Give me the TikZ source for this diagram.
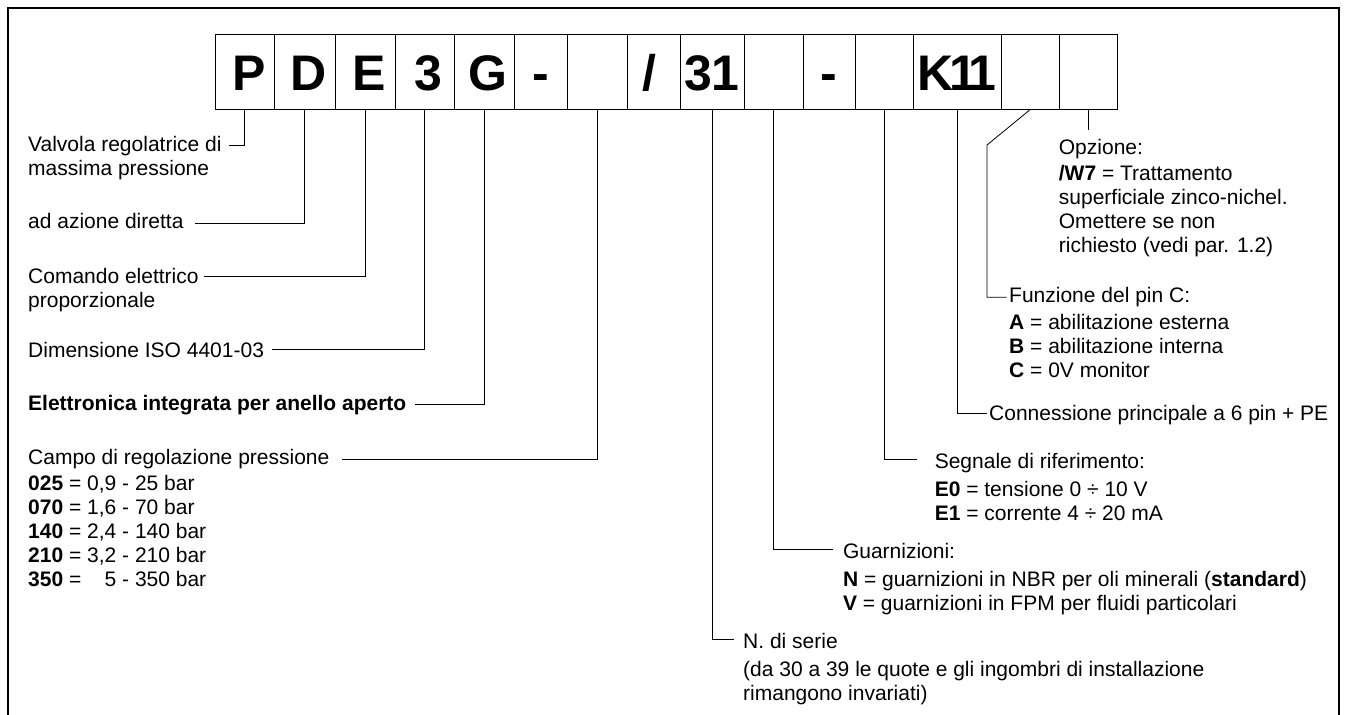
\documentclass[tikz,border=0pt]{standalone}
\usepackage{fontspec}
\setmainfont{Liberation Sans}
\usetikzlibrary{positioning,calc}

\newcommand{\labelrows}[1]{\begin{tabular}[t]{@{}l@{}}#1\end{tabular}}

\tikzset{
  cell/.style={draw, line width=0.8pt, inner sep=0pt, minimum height=75pt,
    text height=38pt, text depth=0pt, font=\bfseries\fontsize{50}{54}\selectfont},
  lbl/.style={anchor=base west, inner sep=0pt, font=\fontsize{21}{24}\selectfont},
  lead/.style={line width=0.8pt}
}

\begin{document}
\begin{tikzpicture}[x=1pt, y=-1pt]
    \useasboundingbox (0,0) rectangle (1345,715);
    % frame, open at the bottom
    \draw[line width=1.3pt] (8,715) -- (8,8) -- (1339,8) -- (1339,715);

    % code cells
    \foreach \nm/\xa/\xb/\txt in {bP/215/274.5/\kern8pt P, bD/274.5/335/\kern8pt D,
        bE/335/395/\kern8pt E, bSize/395/454.5/\kern8pt 3, bG/454.5/514/\kern8pt G,
        bDashA/514/567/-, bRange/567/627/{}, bSlash/627/680/{/\kern8pt},
        bSeries/680/744/31, bSeal/744/803/{}, bDashB/803/855/-, bSignal/855/913/{},
        bConn/913/1001/K\kern-4pt 1\kern-9pt 1, bPin/1001/1059/{}, bOption/1059/1117/{}}
      \node[cell, minimum width={(\xb-\xa)*1pt}] (\nm) at ({(\xa+\xb)/2},71.8) {\txt};

    % left labels
    \node[lbl] (valv) at (28,151.7) {\labelrows{Valvola regolatrice di\\ massima pressione}};
    \node[lbl] (azione) at (28,228.5) {ad azione diretta};
    \node[lbl] (comando) at (28,283) {\labelrows{Comando elettrico\\ proporzionale}};
    \node[lbl] (dimens) at (28,357) {Dimensione ISO 4401-03};
    \node[lbl] (elettr) at (28,410) {\textbf{Elettronica integrata per anello aperto}};
    \node[lbl] (campo) at (28,464) {Campo di regolazione pressione};
    \node[lbl] (campolist) at ([yshift=-26.7pt]campo.base west) {\labelrows{%
        \textbf{025} = 0,9 - 25 bar\\ \textbf{070} = 1,6 - 70 bar\\
        \textbf{140} = 2,4 - 140 bar\\ \textbf{210} = 3,2 - 210 bar\\
        \textbf{350} = \phantom{0,}5 - 350 bar}};

    % right labels
    \node[lbl] (opz) at (1058.7,154) {Opzione:};
    \node[lbl] (opzlist) at ([yshift=-26pt]opz.base west) {\labelrows{%
        \textbf{/W7} = Trattamento\\ superficiale zinco-nichel.\\
        Omettere se non\\ richiesto (vedi par. 1.2)}};
    \node[lbl] (funz) at (1009,302.5) {Funzione del pin C:};
    \node[lbl] (funzlist) at ([yshift=-26.5pt]funz.base west) {\labelrows{%
        \textbf{A} = abilitazione esterna\\ \textbf{B} = abilitazione interna\\
        \textbf{C} = 0V monitor}};
    \node[lbl] (conn) at (989,420) {Connessione principale a 6 pin + PE};
    \node[lbl] (segn) at (934.6,468.3) {Segnale di riferimento:};
    \node[lbl] (segnlist) at ([yshift=-28.4pt]segn.base west) {\labelrows{%
        \textbf{E0} = tensione 0 ÷ 10 V\\ \textbf{E1} = corrente 4 ÷ 20 mA}};
    \node[lbl] (guarn) at (842.8,558.3) {Guarnizioni:};
    \node[lbl] (guarnlist) at ([yshift=-27.7pt]guarn.base west) {\labelrows{%
        \textbf{N} = guarnizioni in NBR per oli minerali (\textbf{standard})\\
        \textbf{V} = guarnizioni in FPM per fluidi particolari}};
    \node[lbl] (serie) at (743,648.3) {N. di serie};
    \node[lbl] (serielist) at ([yshift=-28.4pt]serie.base west) {\labelrows{%
        (da 30 a 39 le quote e gli ingombri di installazione\\ rimangono invariati)}};

    % leaders
    \draw[lead] (bP.south) |- ([shift={(7pt,6.7pt)}]valv.base east);
    \draw[lead] (bD.south) |- ([shift={(11pt,5.5pt)}]azione.base east);
    \draw[lead] (bE.south) |- ([shift={(5pt,7pt)}]comando.base east);
    \draw[lead] (bSize.south) |- ([shift={(8pt,7.5pt)}]dimens.base east);
    \draw[lead] (bG.south) |- ([shift={(9pt,5.7pt)}]elettr.base east);
    \draw[lead] (bRange.south) |- ([shift={(12pt,5pt)}]campo.base east);
    \coordinate (optend) at ([yshift=-20pt]bOption.south);
    \draw[lead] (bOption.south) -- (optend);
    \coordinate (pinbend) at (987,145);
    \draw[lead] (bPin.south) -- (pinbend) |- ([shift={(-2.5pt,5.2pt)}]funz.base west);
    \draw[lead] (bConn.south) |- ([shift={(-2pt,6.7pt)}]conn.base west);
    \draw[lead] (bSignal.south) |- ([shift={(-18pt,9pt)}]segn.base west);
    \draw[lead] (bSeal.south) |- ([shift={(-10pt,9pt)}]guarn.base west);
    \draw[lead] (bSeries.south) |- ([shift={(-9pt,9pt)}]serie.base west);
\end{tikzpicture}
\end{document}
